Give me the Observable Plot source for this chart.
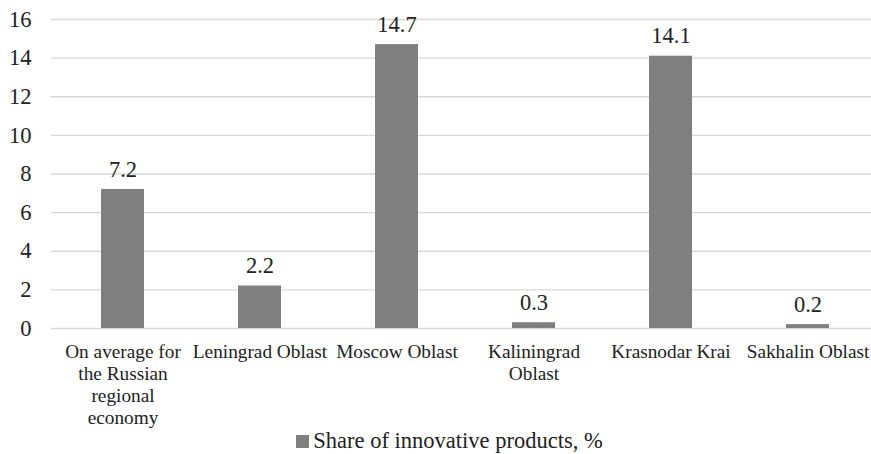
<!DOCTYPE html>
<html>
<head>
<meta charset="utf-8">
<script src="https://cdn.jsdelivr.net/npm/d3@7"></script>
<script src="https://cdn.jsdelivr.net/npm/@observablehq/plot@0.6"></script>
</head>
<body style="margin:0;background:#fff;font-family:'Liberation Serif'">
<div id="chart"></div>
<div id="legend" style="display:flex;justify-content:center;align-items:center;height:26px;font-size:22.5px;color:#222;font-family:'Liberation Serif';padding-left:28px"><span style="display:inline-block;width:13px;height:13px;background:#7f7f7f;margin-right:4px"></span><span style="font-family:'Liberation Serif'">Share of innovative products, %</span></div>
<script>
const categories = [
  "On average for\nthe Russian\nregional\neconomy",
  "Leningrad Oblast",
  "Moscow Oblast",
  "Kaliningrad\nOblast",
  "Krasnodar Krai",
  "Sakhalin Oblast"
];
const values = [7.2, 2.2, 14.7, 0.3, 14.1, 0.2];
const yTicks = [0, 2, 4, 6, 8, 10, 12, 14, 16];

const data = categories.map((c, i) => ({category: c, value: values[i]}));
const serif = "Liberation Serif";

const chart = Plot.plot({
  width: 871,
  height: 428,
  marginTop: 19,
  marginBottom: 100,
  marginLeft: 51,
  marginRight: -7,
  style: {fontFamily: serif, background: "#fff", overflow: "hidden"},
  x: {domain: categories, paddingInner: 0.688, paddingOuter: 0.344, label: null},
  y: {domain: [0, 16], ticks: yTicks, label: null},
  marks: [
    Plot.gridY(yTicks, {stroke: "#d9d9d9", strokeOpacity: 1, strokeWidth: 1.3}),
    Plot.barY(data, {x: "category", y: "value", fill: "#7f7f7f"}),
    Plot.text(data, {x: "category", y: "value", text: d => d.value.toFixed(1), dy: -20, fontSize: 22.5, fill: "#222", fontFamily: serif}),
    Plot.axisY({ticks: yTicks, tickSize: 0, tickPadding: 20, fontSize: 22.5, fill: "#222", fontFamily: serif}),
    Plot.axisX({tickSize: 0, tickPadding: 14, fontSize: 19.3, fill: "#222", lineHeight: 1.14, lineWidth: 100, fontFamily: serif})
  ]
});
chart.setAttribute("font-family", serif);
chart.querySelectorAll("g, text").forEach(el => {
  if (el.hasAttribute("font-family")) el.setAttribute("font-family", serif);
  el.style.fontFamily = "'Liberation Serif'";
});
document.getElementById("chart").appendChild(chart);
</script>
</body>
</html>
